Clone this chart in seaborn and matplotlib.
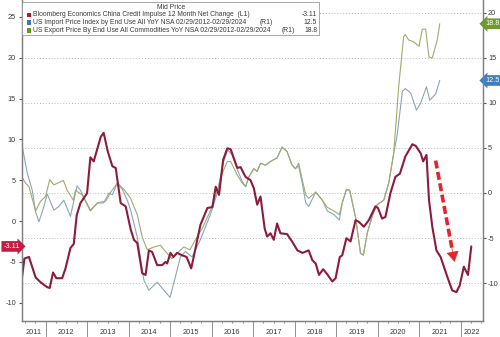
import matplotlib
matplotlib.use("Agg")
import matplotlib.pyplot as plt
import seaborn as sns
from matplotlib.patches import Rectangle
from matplotlib.ticker import FixedLocator, NullFormatter

# ---- data (decimal years) ----
impulse_t = [2011.42, 2011.49, 2011.60, 2011.76, 2011.88, 2012.04, 2012.10, 2012.18, 2012.26, 2012.40,
             2012.48, 2012.60, 2012.68, 2012.75, 2012.84, 2013.00, 2013.08, 2013.16, 2013.33, 2013.40,
             2013.50, 2013.61, 2013.69, 2013.81, 2013.93, 2014.05, 2014.13, 2014.21, 2014.33, 2014.41,
             2014.49, 2014.57, 2014.69, 2014.81, 2014.89, 2014.93, 2015.01, 2015.08, 2015.17, 2015.29,
             2015.40, 2015.51, 2015.57, 2015.73, 2015.90, 2016.02, 2016.10, 2016.18, 2016.28, 2016.38,
             2016.46, 2016.62, 2016.70, 2016.82, 2016.94, 2017.02, 2017.10, 2017.18, 2017.28, 2017.34,
             2017.42, 2017.50, 2017.58, 2017.66, 2017.82, 2017.94, 2018.07, 2018.19, 2018.34, 2018.43,
             2018.51, 2018.59, 2018.69, 2018.80, 2018.91, 2018.99, 2019.09, 2019.15, 2019.25, 2019.35,
             2019.47, 2019.55, 2019.67, 2019.79, 2019.95, 2020.01, 2020.11, 2020.19, 2020.31, 2020.43,
             2020.54, 2020.67, 2020.84, 2020.92, 2021.04, 2021.10, 2021.18, 2021.24, 2021.32, 2021.42,
             2021.52, 2021.68, 2021.80, 2021.90, 2021.98, 2022.08, 2022.18, 2022.26]
impulse_v = [-7.4, -4.6, -4.4, -6.9, -7.5, -8.1, -8.2, -6.3, -7.0, -7.0,
             -5.8, -3.3, -2.8, 0.7, 2.2, 3.4, 7.8, 7.3, 10.3, 10.8,
             8.5, 6.7, 6.5, 2.2, 1.8, -1.0, -2.3, -2.7, -6.4, -6.6,
             -3.6, -3.8, -5.4, -5.4, -5.0, -5.2, -3.9, -4.4, -3.9, -4.2,
             -4.4, -5.8, -4.4, -0.5, 1.6, 1.7, 4.2, 3.2, 7.5, 8.9,
             8.8, 6.5, 6.6, 5.4, 5.0, 4.0, 2.0, 3.0, -0.9, -1.9,
             -1.5, -2.3, -0.3, -1.5, -1.6, -2.5, -3.6, -3.9, -3.6, -4.8,
             -5.2, -6.6, -5.9, -6.6, -7.4, -7.0, -4.4, -4.2, -2.1, -2.5,
             0.1, -0.1, -0.7, 0.1, 1.8, 1.6, 0.3, 0.5, 3.4, 5.4,
             5.8, 7.9, 9.4, 9.2, 8.3, 7.3, 8.1, 2.6, -0.7, -3.6,
             -4.4, -6.8, -8.5, -8.7, -7.9, -5.6, -6.6, -3.11]

import_t = [2011.44, 2011.56, 2011.68, 2011.76, 2011.84, 2011.96, 2012.04, 2012.20, 2012.32, 2012.44,
            2012.60, 2012.76, 2012.84, 2013.08, 2013.25, 2013.40, 2013.53, 2013.61, 2013.73, 2013.85,
            2013.97, 2014.05, 2014.21, 2014.37, 2014.49, 2014.69, 2014.85, 2015.00, 2015.13, 2015.25,
            2015.37, 2015.53, 2015.73, 2015.98, 2016.14, 2016.28, 2016.39, 2016.50, 2016.62, 2016.74,
            2016.82, 2016.90, 2017.02, 2017.10, 2017.18, 2017.30, 2017.42, 2017.58, 2017.70, 2017.82,
            2017.94, 2018.02, 2018.10, 2018.19, 2018.27, 2018.34, 2018.51, 2018.67, 2018.79, 2018.95,
            2019.08, 2019.15, 2019.25, 2019.33, 2019.47, 2019.59, 2019.66, 2019.75, 2019.87, 2019.99,
            2020.15, 2020.27, 2020.39, 2020.47, 2020.60, 2020.67, 2020.80, 2020.94, 2021.04, 2021.18,
            2021.26, 2021.40, 2021.50]
import_v = [5.1, 2.2, 0.3, -2.1, -3.2, -1.5, -0.1, -1.9, -1.5, -0.8,
            -2.6, 0.8, 0.3, -1.9, -1.1, -1.1, 0.0, -0.2, 1.1, 0.4,
            -0.8, -1.9, -4.9, -9.7, -10.8, -9.9, -10.8, -11.6, -9.3, -7.1,
            -6.5, -7.1, -5.2, -2.3, 0.0, 3.3, 4.8, 4.2, 2.6, 1.3,
            0.7, 1.8, 2.7, 2.4, 3.3, 3.1, 3.5, 3.9, 5.1, 4.6,
            3.1, 2.7, 3.0, 1.0, -1.1, -1.5, 0.1, -0.8, -2.0, -2.4,
            -3.0, -1.1, 0.4, 0.3, -2.7, -6.7, -6.9, -4.5, -2.6, -1.3,
            -0.8, 1.1, 4.4, 6.3, 11.3, 11.6, 11.1, 9.2, 10.0, 11.8,
            10.3, 11.0, 12.5]

export_t = [2011.44, 2011.52, 2011.60, 2011.76, 2011.88, 2012.00, 2012.10, 2012.20, 2012.43, 2012.52,
            2012.67, 2012.72, 2012.88, 2013.08, 2013.25, 2013.45, 2013.57, 2013.73, 2013.89, 2014.05,
            2014.21, 2014.33, 2014.45, 2014.61, 2014.77, 2014.89, 2015.05, 2015.17, 2015.33, 2015.48,
            2015.61, 2015.78, 2015.98, 2016.12, 2016.26, 2016.38, 2016.46, 2016.62, 2016.74, 2016.82,
            2016.90, 2017.02, 2017.10, 2017.18, 2017.30, 2017.42, 2017.58, 2017.70, 2017.82, 2017.94,
            2018.02, 2018.10, 2018.19, 2018.27, 2018.34, 2018.51, 2018.67, 2018.79, 2018.95, 2019.08,
            2019.15, 2019.25, 2019.33, 2019.47, 2019.59, 2019.66, 2019.75, 2019.87, 2019.99, 2020.15,
            2020.27, 2020.39, 2020.51, 2020.63, 2020.67, 2020.75, 2020.87, 2021.00, 2021.08, 2021.16,
            2021.24, 2021.32, 2021.44, 2021.50]
export_v = [1.7, 1.1, 0.7, -2.0, -0.9, -0.4, 1.5, 0.9, 1.4, 0.3,
            -0.8, 0.3, -0.2, -2.0, -1.1, -0.9, 0.1, 1.1, 0.4, -0.6,
            -2.4, -4.9, -6.3, -6.0, -5.8, -6.5, -7.3, -6.7, -6.0, -6.3,
            -5.2, -3.9, -1.9, 0.0, 2.2, 3.5, 3.5, 2.0, 1.1, 0.7,
            1.8, 2.7, 2.4, 3.3, 3.1, 3.5, 3.9, 5.1, 4.6, 3.1,
            2.7, 3.3, 1.4, -0.2, -0.6, 0.1, -0.8, -1.6, -2.0, -2.4,
            -1.1, 0.4, 0.3, -2.7, -6.7, -6.9, -4.5, -2.6, -1.3, -0.8,
            1.1, 4.4, 11.8, 17.4, 17.6, 17.0, 16.8, 16.3, 18.2, 18.2,
            15.1, 15.0, 17.0, 18.8]

series_names = ["Bloomberg Economics China Credit Impulse 12 Month Net Change",
                "US Import Price Index by End Use All YoY NSA 02/29/2012-02/29/2024",
                "US Export Price By End Use All Commodities YoY NSA 02/29/2012-02/29/2024"]
series_axes = ["(L1)", "(R1)", "(R1)"]
last_values = ["-3.11", "12.5", "18.8"]
year_labels = [str(y) for y in range(2011, 2023)]
left_ticks = [-10, -5, 0, 5, 10, 15, 20, 25]
right_ticks = [-10, -5, 0, 5, 10, 15, 20]

# ---- style ----
RED = "#8c1b3c"
BLUE = "#8aa6ba"
GREEN = "#a0ab6c"
TAG_RED = "#c51d3f"
TAG_BLUE = "#3f7ebb"
TAG_GREEN = "#6f9b2e"
SQ_COLORS = ["#c8102e", "#3b78b5", "#5f9a1e"]
AXC = "#808080"
TXT = "#3a3a3a"
LEG_FS = 4.85

sns.set_theme(style="white")
plt.rcParams["font.family"] = ["Liberation Sans", "DejaVu Sans"]

W, H = 500, 337
fig = plt.figure(figsize=(W / 100, H / 100), dpi=100)
fig.patch.set_facecolor("white")


def fx(px):
    return px / W


def fy(py):
    return 1 - py / H


x0, x1, yb, yt = 21.5, 482.5, 321, 0
ax = fig.add_axes([fx(x0), fy(yb), fx(x1) - fx(x0), fy(yt) - fy(yb)])
ax2 = ax.twinx()

sns.lineplot(x=import_t, y=import_v, ax=ax2, color=BLUE, lw=0.8)
sns.lineplot(x=export_t, y=export_v, ax=ax2, color=GREEN, lw=0.8)
sns.lineplot(x=impulse_t, y=impulse_v, ax=ax, color=RED, lw=1.5)

# red series on top of the right-axis series
ax.set_zorder(ax2.get_zorder() + 1)
ax.patch.set_visible(False)
ax2.patch.set_visible(True)
ax2.patch.set_facecolor("white")

ax.set_xlim(2011.42, 2022.53)
ax.set_ylim(-12.24, 27.06)
ax2.set_ylim(-14.22, 21.44)

# x axis: year boundaries, quarterly minor ticks, centred year labels
bounds = list(range(2012, 2023))
ax.xaxis.set_major_locator(FixedLocator(bounds))
ax.xaxis.set_major_formatter(NullFormatter())
quarters = [b + q for b in range(2011, 2023) for q in (0.25, 0.5, 0.75)]
ax.xaxis.set_minor_locator(FixedLocator(quarters))
ax.tick_params(axis="x", which="major", direction="out", length=11.5, width=0.6, color=AXC, bottom=True)
ax.tick_params(axis="x", which="minor", direction="out", length=1.6, width=0.6, color=AXC, bottom=True)
lo, hi = ax.get_xlim()
for i, lab in enumerate(year_labels):
    a = max(2011 + i, lo)
    b = min(2012 + i, hi)
    ax.text((a + b) / 2, -0.036, lab, transform=ax.get_xaxis_transform(), ha="center", va="center",
            fontsize=5.3, color=TXT)

ax.set_yticks(left_ticks)
ax.set_yticklabels([str(t) for t in left_ticks])
ax.tick_params(axis="y", which="major", direction="out", length=2.5, width=0.8, color="#555555",
               labelsize=5.3, labelcolor=TXT, pad=1.5, left=True)
ax2.set_yticks(right_ticks)
ax2.set_yticklabels([str(t) for t in right_ticks])
ax2.tick_params(axis="y", which="major", direction="out", length=2.5, width=0.8, color="#555555",
                labelsize=5.3, labelcolor=TXT, pad=1.5, right=True)

# dotted grid on the right axis and at the year boundaries
ax.grid(False)
ax2.grid(False)
ax2.yaxis.grid(True, color="#b8b8b8", linestyle=(0, (1, 2)), lw=0.7)
ax2.xaxis.grid(True, color="#b8b8b8", linestyle=(0, (1, 2)), lw=0.7)

for a_ in (ax, ax2):
    a_.spines["top"].set_visible(False)
    for s in ("left", "right", "bottom"):
        a_.spines[s].set_color(AXC)
        a_.spines[s].set_linewidth(0.9)
ax.set_xlabel("")
ax.set_ylabel("")
ax2.set_ylabel("")

# last-value tags
ax.text(-0.004, impulse_v[-1], last_values[0], transform=ax.get_yaxis_transform(), ha="right",
        va="center", fontsize=5.3, color="white", clip_on=False,
        bbox=dict(boxstyle="rarrow,pad=0.25", fc=TAG_RED, ec="none"))
ax2.text(1.006, import_v[-1], last_values[1], transform=ax2.get_yaxis_transform(), ha="left",
         va="center", fontsize=5.3, color="white", clip_on=False,
         bbox=dict(boxstyle="larrow,pad=0.25", fc=TAG_BLUE, ec="none"))
ax2.text(1.006, export_v[-1], last_values[2], transform=ax2.get_yaxis_transform(), ha="left",
         va="center", fontsize=5.3, color="white", clip_on=False,
         bbox=dict(boxstyle="larrow,pad=0.25", fc=TAG_GREEN, ec="none"))

# dashed red arrow marking the recent drop
arr_start = (2021.40, 7.4)
arr_end = (2021.855, -5.0)
k = 0.86
mid = (arr_start[0] + (arr_end[0] - arr_start[0]) * k, arr_start[1] + (arr_end[1] - arr_start[1]) * k)
ax.plot([arr_start[0], mid[0]], [arr_start[1], mid[1]], color="#e3262b", lw=2.6,
        dashes=(2.2, 1.0), solid_capstyle="butt", zorder=5)
ax.annotate("", xy=arr_end, xytext=mid,
            arrowprops=dict(arrowstyle="-|>,head_length=0.55,head_width=0.33", color="#e3262b",
                            lw=0.5, shrinkA=0, shrinkB=0), zorder=5)

# legend box
bx0, by0, bx1, by1 = 22.3, 2.5, 319, 34.5
fig.patches.append(Rectangle((fx(bx0), fy(by1)), fx(bx1) - fx(bx0), fy(by0) - fy(by1),
                             transform=fig.transFigure, fc="white", ec="#9a9a9a", lw=0.6, zorder=10))
fig.text(fx((bx0 + bx1) / 2), fy(7.2), "Mid Price", ha="center", va="center", fontsize=LEG_FS,
         color=TXT, zorder=11)
rows_y = [15.0, 22.7, 30.4]
tag_x = [None, 260, 282]
for name, axis_tag, val, col, ry, tx in zip(series_names, series_axes, last_values, SQ_COLORS, rows_y, tag_x):
    fig.patches.append(Rectangle((fx(26.5), fy(ry + 2.4)), fx(4.8), 4.8 / H, transform=fig.transFigure,
                                 fc=col, ec="none", zorder=11))
    if tx is None:
        fig.text(fx(33.3), fy(ry), name + "  " + axis_tag, ha="left", va="center", fontsize=LEG_FS,
                 color=TXT, zorder=11)
    else:
        fig.text(fx(33.3), fy(ry), name, ha="left", va="center", fontsize=LEG_FS, color=TXT, zorder=11)
        fig.text(fx(tx), fy(ry), axis_tag, ha="left", va="center", fontsize=LEG_FS, color=TXT, zorder=11)
    fig.text(fx(317), fy(ry), val, ha="right", va="center", fontsize=LEG_FS, color=TXT, zorder=11)

fig.savefig("out.png", dpi=100, facecolor="white")
